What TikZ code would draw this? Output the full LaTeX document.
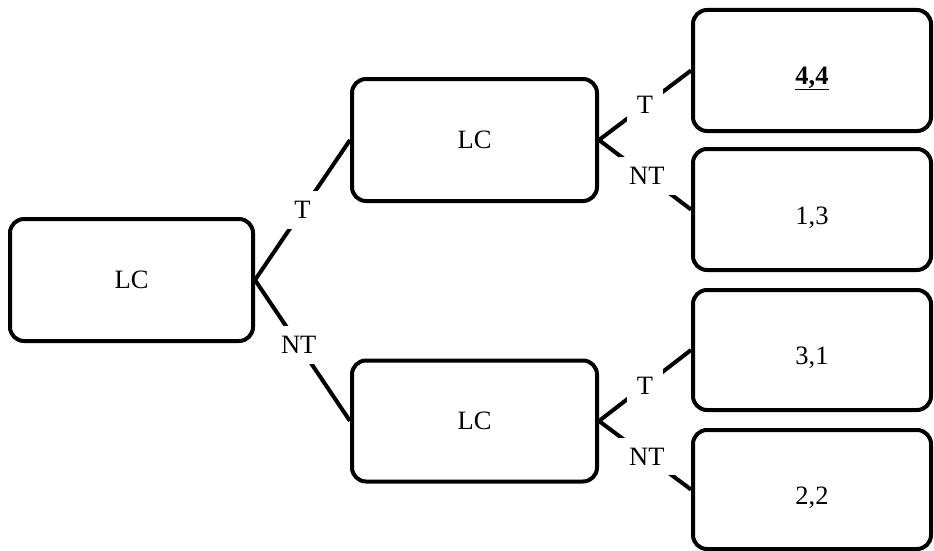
\documentclass[tikz,border=0pt]{standalone}
\usepackage{fontspec}
\setmainfont{Liberation Serif}
\usetikzlibrary{calc}
\begin{document}
\begin{tikzpicture}[x=1pt,y=1pt,
  box/.style={draw=black,line width=4pt,rounded corners=14pt,inner sep=0pt,
    font=\fontsize{26.5pt}{30pt}\selectfont},
  txt/.style={inner sep=0pt,font=\fontsize{26.5pt}{30pt}\selectfont},
  edge/.style={line width=4pt,black},
  lab/.style={fill=white,inner sep=10pt,font=\fontsize{26.5pt}{30pt}\selectfont}]
\useasboundingbox (0,0) rectangle (934,-551);
\node[box,minimum width=243pt,minimum height=122pt] (root) at (131.5,-280) {LC};
\node[box,minimum width=245pt,minimum height=122pt] (mt) at (474.5,-140) {LC};
\node[box,minimum width=245pt,minimum height=121pt] (mb) at (474.5,-421) {LC};
\node[box,minimum width=238pt,minimum height=121pt] (r1) at (812,-70.5) {};
\node[box,minimum width=238pt,minimum height=121pt] (r2) at (812,-209.5) {};
\node[box,minimum width=238pt,minimum height=120pt] (r3) at (812,-350) {};
\node[box,minimum width=238pt,minimum height=119pt] (r4) at (812,-489.5) {};
\node[txt] (t1) at ($(r1.center)+(0,-8)$) {\underline{\textbf{4,4}}};
\node[txt] (t2) at ($(r2.center)+(0,-8)$) {1,3};
\node[txt] (t3) at ($(r3.center)+(0,-8)$) {3,1};
\node[txt] (t4) at ($(r4.center)+(0,-8)$) {2,2};
\draw[edge] (root.east) -- node[lab] (l1) {T} (mt.west);
\draw[edge] (root.east) -- node[lab,pos=0.46] (l2) {NT} (mb.west);
\draw[edge] (mt.east) -- node[lab] (l3) {T} (r1.west);
\draw[edge] (mt.east) -- node[lab,pos=0.52] (l4) {NT} (r2.west);
\draw[edge] (mb.east) -- node[lab] (l5) {T} (r3.west);
\draw[edge] (mb.east) -- node[lab,pos=0.52] (l6) {NT} (r4.west);
\end{tikzpicture}
\end{document}
